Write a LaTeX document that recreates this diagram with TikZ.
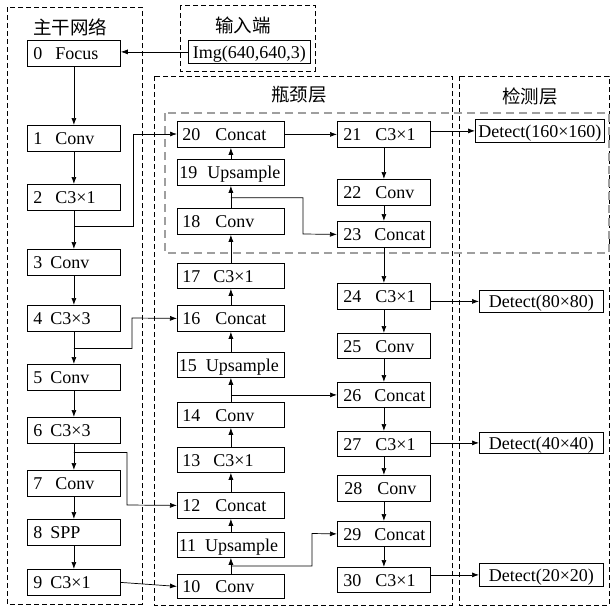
\documentclass[tikz,border=0pt]{standalone}
\usepackage{fontspec}
\setmainfont{Liberation Serif}
\newfontfamily\cjk{Noto Sans CJK SC}
\usetikzlibrary{arrows.meta,calc}
\newcommand\lbx[2]{\makebox[#1][l]{#2}}
\tikzset{
  bx/.style={draw, line width=0.8pt, inner ysep=0pt, anchor=north west,
    minimum height=26pt, text height=14pt, text depth=1.5pt,
    font=\fontsize{18}{20}\selectfont},
  lbox/.style={bx, inner xsep=#1},
  cbox/.style={bx, inner xsep=0pt},
  grp/.style={draw, line width=0.9pt, dash pattern=on 5pt off 3pt},
  inner/.style={draw=gray!75, line width=1.2pt, dash pattern=on 8pt off 5pt},
  ttl/.style={font=\cjk\fontsize{18.5}{20}\selectfont, inner sep=0pt},
  arr/.style={line width=0.7pt, -{Latex[length=7pt,width=5pt]}},
}
\begin{document}
\begin{tikzpicture}[x=1pt,y=-1pt]
\useasboundingbox (0,0) rectangle (610,608);
% group frames
\draw[grp] (7,7) rectangle (142,604);
\draw[grp] (180,5) rectangle (315,71);
\draw[grp] (154,76) rectangle (452,605);
\draw[grp] (459,76) rectangle (609,605);
\draw[inner] (165,113) rectangle (609,253);
\node[ttl] (t1) at (70,27) {主干网络};
\node[ttl] (t2) at (243,25) {输入端};
\node[ttl] (t3) at (299,95) {瓶颈层};
\node[ttl] (t4) at (530,96) {检测层};
% input
\node[cbox, minimum width=122pt, minimum height=23pt] (img) at (188,40) {Img(640,640,3)};
% backbone
\node[lbox=6pt] (n0) at (27,40) {\lbx{81pt}{0\hspace{13pt}Focus}};
\node[lbox=6pt] (n1) at (27,125) {\lbx{81pt}{1\hspace{13pt}Conv}};
\node[lbox=6pt] (n2) at (27,184) {\lbx{81pt}{2\hspace{13pt}C3×1}};
\node[lbox=6pt] (n3) at (27,249) {\lbx{81pt}{3\hspace{8pt}Conv}};
\node[lbox=6pt] (n4) at (27,305) {\lbx{81pt}{4\hspace{8pt}C3×3}};
\node[lbox=6pt] (n5) at (27,364) {\lbx{81pt}{5\hspace{8pt}Conv}};
\node[lbox=6pt] (n6) at (27,417) {\lbx{81pt}{6\hspace{8pt}C3×3}};
\node[lbox=6pt] (n7) at (27,470) {\lbx{81pt}{7\hspace{13pt}Conv}};
\node[lbox=6pt] (n8) at (27,519) {\lbx{81pt}{8\hspace{8pt}SPP}};
\node[lbox=6pt] (n9) at (27,569) {\lbx{81pt}{9\hspace{8pt}C3×1}};
% neck left column
\node[lbox=5pt] (n20) at (177,121) {\lbx{97pt}{20\hspace{15pt}Concat}};
\node[lbox=2pt] (n19) at (177,159) {\lbx{103pt}{19\hspace{10pt}Upsample}};
\node[lbox=5pt] (n18) at (177,208) {\lbx{97pt}{18\hspace{15pt}Conv}};
\node[lbox=5pt, minimum height=25pt] (n17) at (177,263) {\lbx{97pt}{17\hspace{13pt}C3×1}};
\node[lbox=5pt] (n16) at (177,305) {\lbx{97pt}{16\hspace{15pt}Concat}};
\node[lbox=1.5pt, minimum height=25pt] (n15) at (177,352) {\lbx{104pt}{15\hspace{9pt}Upsample}};
\node[lbox=5pt, minimum height=25pt] (n14) at (177,402) {\lbx{97pt}{14\hspace{15pt}Conv}};
\node[lbox=5pt, minimum height=25pt] (n13) at (177,447) {\lbx{97pt}{13\hspace{13pt}C3×1}};
\node[lbox=5pt] (n12) at (177,492) {\lbx{97pt}{12\hspace{15pt}Concat}};
\node[lbox=1.5pt, minimum height=25pt] (n11) at (177,532) {\lbx{104pt}{11\hspace{9pt}Upsample}};
\node[lbox=5pt, minimum height=24pt] (n10) at (177,574) {\lbx{97pt}{10\hspace{15pt}Conv}};
% neck right column
\node[lbox=6pt] (n21) at (337,121) {\lbx{81pt}{21\hspace{14pt}C3×1}};
\node[lbox=6pt] (n22) at (337,179) {\lbx{81pt}{22\hspace{14pt}Conv}};
\node[lbox=6pt] (n23) at (337,221) {\lbx{81pt}{23\hspace{13pt}Concat}};
\node[lbox=6pt] (n24) at (337,283) {\lbx{81pt}{24\hspace{14pt}C3×1}};
\node[lbox=6pt, minimum height=25pt] (n25) at (337,333) {\lbx{81pt}{25\hspace{14pt}Conv}};
\node[lbox=6pt, minimum height=25pt] (n26) at (337,382) {\lbx{81pt}{26\hspace{13pt}Concat}};
\node[lbox=6pt, minimum height=25pt] (n27) at (337,431) {\lbx{81pt}{27\hspace{14pt}C3×1}};
\node[lbox=7pt] (n28) at (337,475) {\lbx{79pt}{28\hspace{15pt}Conv}};
\node[lbox=6pt, minimum height=25pt] (n29) at (337,521) {\lbx{81pt}{29\hspace{13pt}Concat}};
\node[lbox=6pt, minimum height=25pt] (n30) at (337,567) {\lbx{81pt}{30\hspace{14pt}C3×1}};
% detect
\node[cbox, minimum width=129pt, minimum height=23pt] (d160) at (475,119) {Detect(160×160)};
\node[cbox, minimum width=124pt, minimum height=22pt] (d80) at (479,290) {Detect(80×80)};
\node[cbox, minimum width=124pt, minimum height=21pt] (d40) at (479,432) {Detect(40×40)};
\node[cbox, minimum width=124pt, minimum height=23pt] (d20) at (479,563) {Detect(20×20)};
% helper coordinates
\coordinate (b2) at ($(n2.south)!0.42!(n3.north)$);
\coordinate (b4) at ($(n4.south)!0.52!(n5.north)$);
\coordinate (b6) at ($(n6.south)!0.33!(n7.north)$);
\coordinate (b10) at ($(n10.north)!0.5!(n11.south)$);
\coordinate (b14) at (n14.north |- n26.west);
\coordinate (b18) at ($(n18.north)!0.46!(n19.south)$);
% connectors
\draw[arr] (img.west) -- (img.west -| n0.east);
\foreach \a/\b in {n0/n1,n1/n2,n2/n3,n3/n4,n4/n5,n5/n6,n6/n7,n7/n8,n8/n9}
  \draw[arr] (\a.south) -- (\b.north);
\foreach \a/\b in {n10/n11,n11/n12,n12/n13,n13/n14,n14/n15,n15/n16,n16/n17,n17/n18,n18/n19,n19/n20}
  \draw[arr] (\a.north) -- (\b.south);
\foreach \a/\b in {n21/n22,n22/n23,n23/n24,n24/n25,n25/n26,n26/n27,n27/n28,n28/n29,n29/n30}
  \draw[arr] (\a.south) -- (\b.north);
\draw[arr] (b2) -| (133,134) -- (n20.west |- 133,134);
\draw[arr] (b4) -| (132,318) -- (n16.west);
\draw[arr] (b6) -| (127,505) -- (n12.west);
\draw[arr] (n9.east) -- (n10.west);
\draw[arr] (b10) -| (312,533.5) -- (n29.west);
\draw[arr] (b14) -- (n26.west);
\draw[arr] (b18) -| (303,234) -- (n23.west);
\draw[arr] (n20.east |- n21.west) -- (n21.west);
\draw[arr] (n21.east |- d160.west) -- (d160.west);
\draw[arr] (n24.east |- d80.west) -- (d80.west);
\draw[arr] (n27.east |- d40.west) -- (d40.west);
\draw[arr] (n30.east |- d20.west) -- (d20.west);
\end{tikzpicture}
\end{document}
